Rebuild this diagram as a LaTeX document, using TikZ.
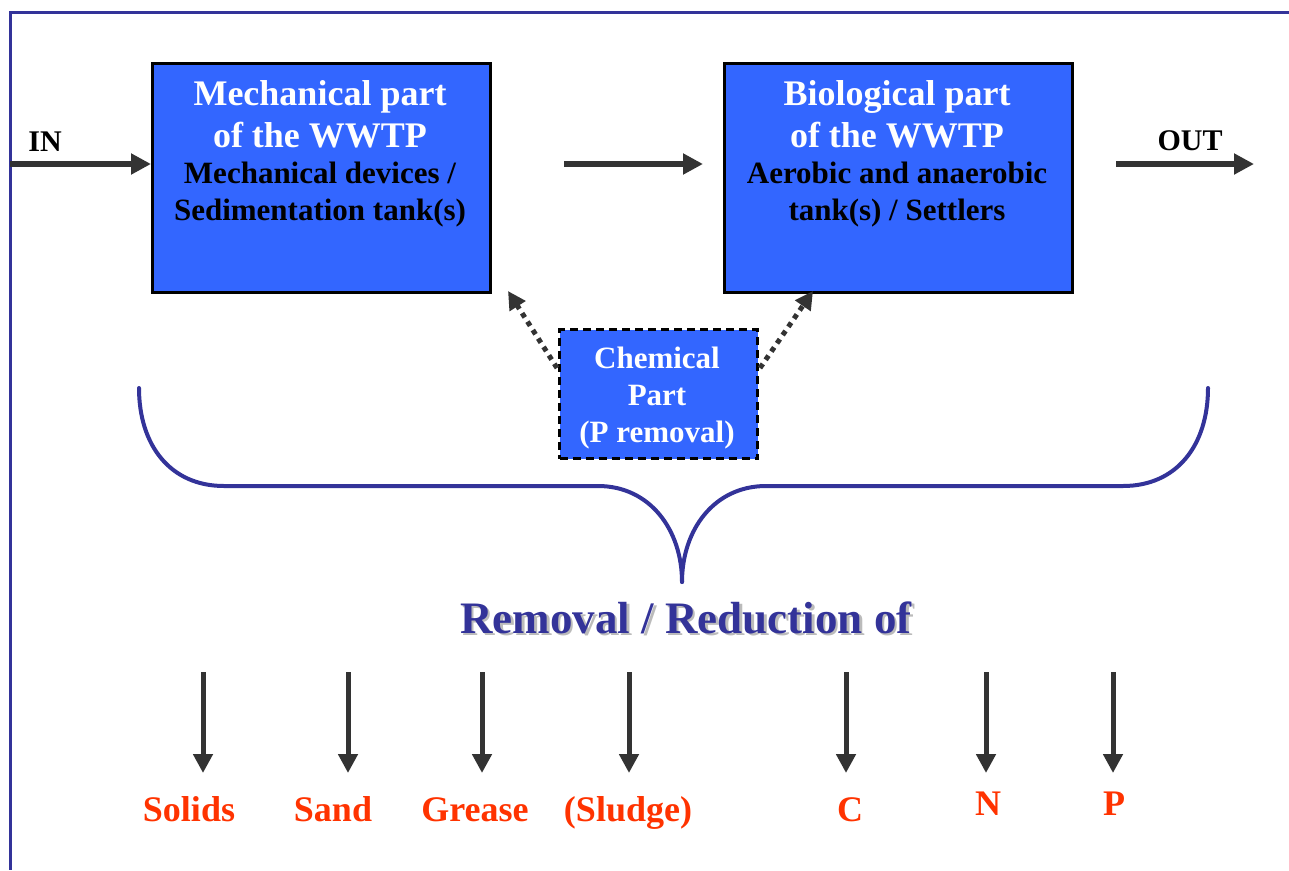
\documentclass[tikz,border=0pt]{standalone}
\usepackage{fontspec}
\setmainfont{Liberation Serif}
\usetikzlibrary{arrows.meta,calc}
\definecolor{boxblue}{HTML}{3366FF}
\definecolor{arrowgrey}{HTML}{333333}
\definecolor{navy}{HTML}{333399}
\definecolor{redlab}{HTML}{FF3300}
\definecolor{shadowgrey}{HTML}{BBBBBB}
\tikzset{
  partbox/.style={draw=black,fill=boxblue,line width=2.5pt,inner sep=0pt,anchor=north west},
  chembox/.style={draw=black,fill=boxblue,line width=3pt,dash pattern=on 8pt off 5pt,inner sep=0pt,anchor=north west},
  titletext/.style={text=white,font=\bfseries\fontsize{36}{42}\selectfont,align=center,anchor=base,inner sep=0pt},
  subtext/.style={text=black,font=\bfseries\fontsize{31}{37}\selectfont,align=center,anchor=base,inner sep=0pt},
  chemtext/.style={text=white,font=\bfseries\fontsize{31}{37}\selectfont,align=center,anchor=base,inner sep=0pt},
  inout/.style={text=black,font=\bfseries\fontsize{30}{36}\selectfont,anchor=base,inner sep=0pt},
  bigarrow/.style={draw=arrowgrey,line width=6pt,-{Triangle[length=20pt,width=20pt]}},
  downarrow/.style={draw=arrowgrey,line width=5pt,-{Triangle[length=19pt,width=19pt]}},
  dotarrow/.style={draw=arrowgrey,line width=5pt,dash pattern=on 5pt off 5pt,-{Triangle[length=18pt,width=18pt]}},
  bracepath/.style={draw=navy,line width=4pt,line cap=round},
  framepath/.style={draw=navy,line width=3pt},
  reslabel/.style={text=redlab,font=\bfseries\fontsize{36}{42}\selectfont,anchor=base,inner sep=0pt},
}
\begin{document}
\begin{tikzpicture}[x=1pt,y=-1pt]
\useasboundingbox (0,0) rectangle (1289,870);
% frame
\coordinate (fTR) at (1289,12);
\coordinate (fTL) at (10,12);
\coordinate (fBL) at (10,870);
\draw[framepath] (fTR) -- (fTL) -- (fBL);

% boxes
\node[partbox,minimum width=338pt,minimum height=229pt] (mech) at (151,62) {};
\node[partbox,minimum width=348pt,minimum height=229pt] (bio) at (723,62) {};
\node[chembox,minimum width=198pt,minimum height=129pt] (chem) at (558,328) {};

% box texts (anchor base = baseline of the last line)
\node[titletext] (mechT) at (320,147) {Mechanical part\\of the WWTP};
\node[subtext] (mechS) at (320,220) {Mechanical devices /\\Sedimentation tank(s)};
\node[titletext] (bioT) at (897,147) {Biological part\\of the WWTP};
\node[subtext] (bioS) at (897,220) {Aerobic and anaerobic\\tank(s) / Settlers};
\node[chemtext] (chemT) at (657,442) {Chemical\\Part\\(P removal)};

% IN / OUT
\node[inout] (inL) at (45,151) {IN};
\node[inout] (outL) at (1190,150) {OUT};
\coordinate (inS) at (10,164);
\draw[bigarrow] (inS) -- (inS -| mech.west);
\coordinate (midS) at (564,164);
\coordinate (midE) at (703,164);
\draw[bigarrow] (midS) -- (midE);
\coordinate (outS) at (1116,164);
\coordinate (outE) at (1254,164);
\draw[bigarrow] (outS) -- (outE);

% dotted arrows
\coordinate (dlS) at (557,368);
\coordinate (dlE) at (508,291);
\coordinate (drS) at (760,368);
\coordinate (drE) at (813,291);
\draw[dotarrow] (dlS) -- (dlE);
\draw[dotarrow] (drS) -- (drE);

% brace
\coordinate (bL) at (139,388);
\coordinate (bR) at (1208,388);
\coordinate (bM) at (682,582);
\draw[bracepath] (bL) .. controls (139,445) and (170,486) .. (224,486) -- (598,486)
  .. controls (650,486) and (682,530) .. (bM);
\draw[bracepath] (bR) .. controls (1208,445) and (1177,486) .. (1123,486) -- (766,486)
  .. controls (714,486) and (682,530) .. (bM);

% Removal text
\node[text=shadowgrey,font=\bfseries\fontsize{45}{50}\selectfont,anchor=base,inner sep=0pt] (remSh) at (688.5,635.5) {Removal / Reduction of};
\node[text=navy,font=\bfseries\fontsize{45}{50}\selectfont,anchor=base,inner sep=0pt] (rem) at (686,633) {Removal / Reduction of};

% down arrows and labels
\foreach \x/\n in {203/a,348/b,482/c,629/d,846/e,986/f,1113/g}{
  \coordinate (dS\n) at (\x,672);
  \coordinate (dE\n) at (\x,773);
  \draw[downarrow] (dS\n) -- (dE\n);
}
\node[reslabel] (l1) at (189,821) {Solids};
\node[reslabel] (l2) at (333,821) {Sand};
\node[reslabel] (l3) at (475,821) {Grease};
\node[reslabel] (l4) at (628,821) {(Sludge)};
\node[reslabel] (l5) at (850,821) {C};
\node[reslabel] (l6) at (988,815) {N};
\node[reslabel] (l7) at (1114,815) {P};
\end{tikzpicture}
\end{document}
